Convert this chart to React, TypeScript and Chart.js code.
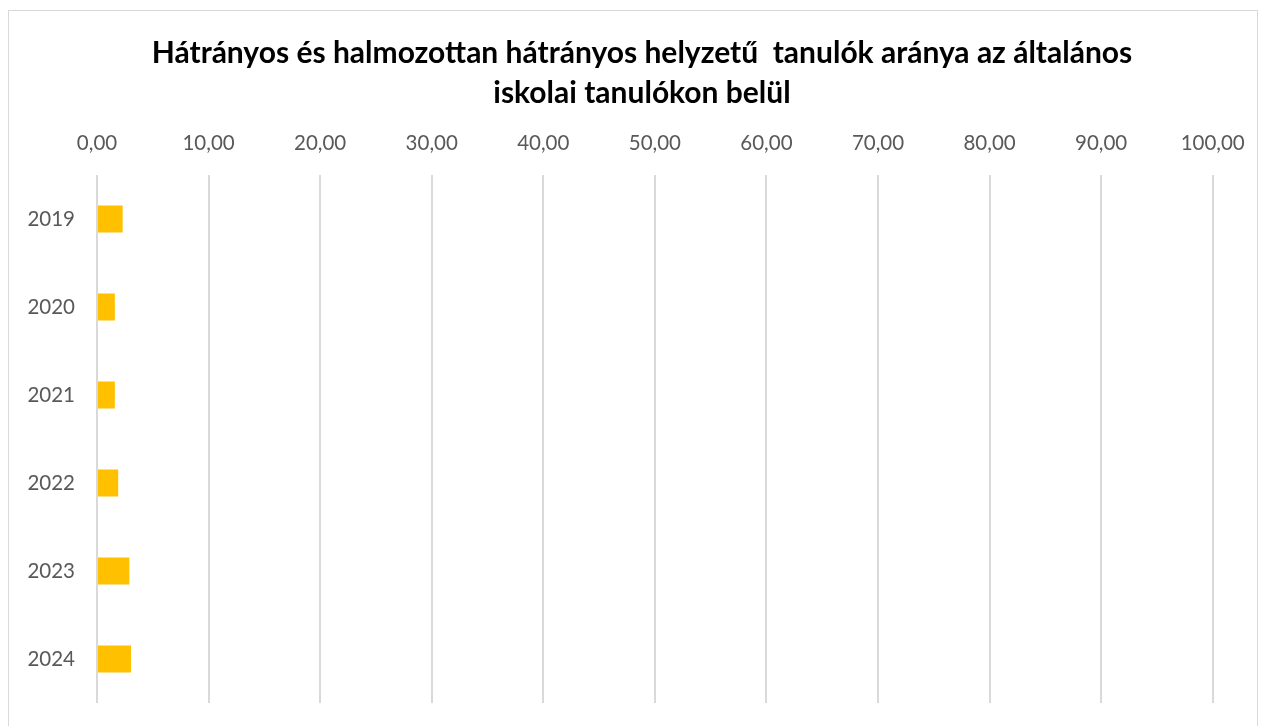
import React, { useEffect, useRef } from "react";
import { Chart, registerables } from "chart.js";

Chart.register(...registerables);

const categories = ["2019", "2020", "2021", "2022", "2023", "2024"];
const values = [2.3, 1.6, 1.6, 1.9, 2.9, 3.05];
const titleLines = [
  "Hátrányos és halmozottan hátrányos helyzetű  tanulók aránya az általános",
  "iskolai tanulókon belül",
];

const titlePlugin = {
  id: "customTitle",
  afterDraw(chart: any) {
    const ctx = chart.ctx;
    ctx.save();
    ctx.fillStyle = "#000000";
    ctx.font = "bold 30px Lato";
    ctx.textAlign = "center";
    ctx.textBaseline = "middle";
    const cx = 633;
    titleLines.forEach((line, i) => {
      ctx.fillText(line, cx, 42 + i * 40);
    });
    ctx.restore();
  },
};

export default function App() {
  const ref = useRef<HTMLCanvasElement>(null);
  useEffect(() => {
    if (!ref.current) return;
    const chart = new Chart(ref.current, {
      type: "bar",
      data: {
        labels: categories,
        datasets: [
          {
            data: values,
            backgroundColor: "#FFC000",
            borderWidth: 0,
            categoryPercentage: 0.8,
            barPercentage: 0.38,
          },
        ],
      },
      options: {
        indexAxis: "y",
        responsive: false,
        animation: false,
        devicePixelRatio: 1,
        layout: { padding: { left: 0, right: 44.3, bottom: 46, top: 0 } },
        plugins: {
          legend: { display: false },
          tooltip: { enabled: false },
          title: { display: false },
        },
        scales: {
          x: {
            position: "top",
            min: 0,
            max: 100,
            ticks: {
              stepSize: 10,
              color: "#595959",
              font: { family: "Lato", size: 20.5 },
              padding: 19,
              callback: (v: any) => Number(v).toFixed(2).replace(".", ","),
            },
            grid: { color: "#d9d9d9", lineWidth: 2, drawTicks: false },
            border: { display: false },
            afterFit: (s: any) => {
              s.height = 164;
              s.paddingLeft = 0;
              s.paddingRight = 0;
            },
          },
          y: {
            ticks: {
              color: "#595959",
              font: { family: "Lato", size: 20.5 },
              padding: 22,
            },
            grid: { display: false, drawTicks: false },
            border: { display: false },
            afterFit: (s: any) => {
              s.width = 88;
              s.paddingTop = 0;
              s.paddingBottom = 0;
            },
          },
        },
      },
      plugins: [titlePlugin],
    });
    return () => chart.destroy();
  }, []);
  return (
    <div
      style={{
        position: "relative",
        top: 2,
        width: 1248,
        height: 738,
        border: "1px solid #d9d9d9",
        background: "#fff",
      }}
    >
      <canvas ref={ref} width={1248} height={738} style={{ display: "block" }} />
    </div>
  );
}
